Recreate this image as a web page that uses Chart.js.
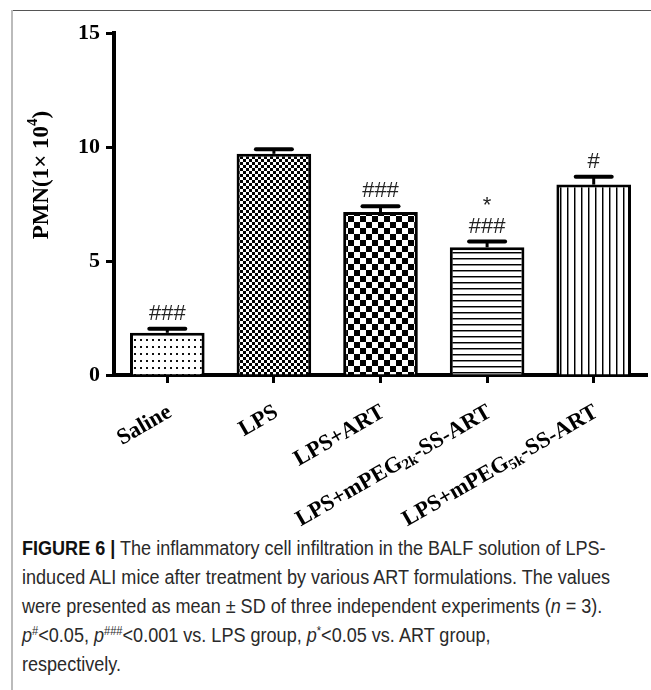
<!DOCTYPE html>
<html>
<head>
<meta charset="utf-8">
<script src="https://cdn.jsdelivr.net/npm/chart.js@4"></script>
<style>
    body { margin: 0; background: #fff; width: 651px; height: 690px; overflow: hidden; position: relative; }
    #frameTop { position: absolute; left: 11px; top: 10px; width: 640px; height: 1px; background: #555; }
    #frameLeft { position: absolute; left: 11px; top: 10px; width: 2px; height: 680px; background: #bbb; }
    #chartBox { position: absolute; left: 0; top: 0; width: 651px; height: 530px; }
    #caption { position: absolute; left: 22px; top: 534px; font-family: "Liberation Sans", Arial, sans-serif; font-size: 19.5px; line-height: 29px; color: #2a2a2a; white-space: nowrap; transform-origin: 0 0; }
    #caption div { display: block; }
    #caption b { font-weight: bold; color: #111; }
    #caption sup { font-size: 12px; line-height: 0; }
</style>
</head>
<body>
<div id="frameTop"></div>
<div id="frameLeft"></div>
<div id="chartBox"><canvas id="chart"></canvas></div>
<div id="caption">
    <div><b>FIGURE 6 |</b> The inflammatory cell infiltration in the BALF solution of LPS-</div>
    <div><span id="line2">induced ALI mice after treatment by various ART formulations. The values</span></div>
    <div>were presented as mean ± SD of three independent experiments (<i>n</i> = 3).</div>
    <div><i>p</i><sup>#</sup>&lt;0.05, <i>p</i><sup>###</sup>&lt;0.001 vs. LPS group, <i>p</i><sup>*</sup>&lt;0.05 vs. ART group,</div>
    <div>respectively.</div>
</div>
<script>
const categories = ['Saline', 'LPS', 'LPS+ART', 'LPS+mPEG2k-SS-ART', 'LPS+mPEG5k-SS-ART'];
const subscripts = ['', '', '', '2k', '5k'];
const pmnMean = [1.85, 9.7, 7.15, 5.6, 8.35];
const pmnSD = [0.18, 0.2, 0.25, 0.25, 0.35];
const marks = [['###'], [], ['###'], ['*', '###'], ['#']];
const yTicks = [0, 5, 10, 15];

const serif = '"Liberation Serif", "Times New Roman", serif';

// squeeze the caption to the narrow look of the original
const line2 = document.getElementById('line2');
document.getElementById('caption').style.transform = 'scaleX(' + (588 / line2.getBoundingClientRect().width) + ')';

// little tiles for the bar fills
function makePattern(w, h, draw) {
    const c = document.createElement('canvas');
    c.width = w;
    c.height = h;
    const g = c.getContext('2d');
    g.fillStyle = '#fff';
    g.fillRect(0, 0, w, h);
    draw(g);
    return c;
}

const ctx = document.getElementById('chart').getContext('2d');

const tiles = [
    makePattern(6, 7, g => { g.fillStyle = '#111'; g.fillRect(2, 3, 2, 2); }),
    makePattern(6, 6, g => { g.fillStyle = '#000'; g.fillRect(0, 0, 3, 3); g.fillRect(3, 3, 3, 3); }),
    makePattern(12, 12, g => { g.fillStyle = '#000'; g.fillRect(0, 0, 6, 6); g.fillRect(6, 6, 6, 6); }),
    makePattern(4, 6, g => { g.fillStyle = '#000'; g.fillRect(0, 0, 4, 1); g.fillStyle = '#888'; g.fillRect(0, 1, 4, 1); }),
    makePattern(7, 4, g => { g.fillStyle = '#000'; g.fillRect(0, 0, 1, 4); g.fillStyle = '#888'; g.fillRect(1, 0, 1, 4); })
];
const fills = tiles.map(t => ctx.createPattern(t, 'repeat'));

const errorBars = {
    id: 'errorBars',
    afterDatasetsDraw(chart) {
        const c = chart.ctx;
        const y = chart.scales.y;
        const meta = chart.getDatasetMeta(0);
        c.save();
        c.strokeStyle = '#000';
        meta.data.forEach((bar, i) => {
            const top = y.getPixelForValue(pmnMean[i] + pmnSD[i]);
            c.lineWidth = 3;
            c.beginPath();
            c.moveTo(bar.x, bar.y);
            c.lineTo(bar.x, top);
            c.stroke();
            c.lineWidth = 4;
            c.lineCap = 'round';
            c.beginPath();
            c.moveTo(bar.x - 18, top);
            c.lineTo(bar.x + 18, top);
            c.stroke();
            c.lineCap = 'butt';

            // significance marks, stacked upwards
            c.fillStyle = '#222';
            c.font = '22px "Liberation Sans", Arial, sans-serif';
            c.textAlign = 'center';
            c.textBaseline = 'alphabetic';
            const lines = marks[i].slice().reverse();
            lines.forEach((txt, k) => {
                c.fillText(txt, bar.x, top - 9 - k * 21);
            });
        });
        c.restore();
    }
};

// rotated category labels (with subscripts) and the y title
const axisText = {
    id: 'axisText',
    afterDraw(chart) {
        const c = chart.ctx;
        const x = chart.scales.x;
        const big = 'bold 22.5px ' + serif;
        const small = 'bold 15px ' + serif;
        c.save();
        c.fillStyle = '#000';
        c.textBaseline = 'top';
        c.textAlign = 'left';
        categories.forEach((label, i) => {
            let parts = [[label, big, 0]];
            if (subscripts[i]) {
                const at = label.indexOf(subscripts[i]);
                parts = [
                    [label.slice(0, at), big, 0],
                    [subscripts[i], small, 9],
                    [label.slice(at + subscripts[i].length), big, 0]
                ];
            }
            let total = 0;
            parts.forEach(p => { c.font = p[1]; total += c.measureText(p[0]).width; });
            c.save();
            c.translate(x.getPixelForValue(i) - 3, 401);
            c.rotate(-30 * Math.PI / 180);
            let pos = -total;
            parts.forEach(p => {
                c.font = p[1];
                c.fillText(p[0], pos, p[2]);
                pos += c.measureText(p[0]).width;
            });
            c.restore();
        });

        // y title
        c.save();
        c.translate(42, 175);
        c.rotate(-Math.PI / 2);
        c.textBaseline = 'middle';
        const pieces = [['PMN(1\u00d7 10', 'bold 23px ' + serif, 0], ['4', 'bold 15px ' + serif, -9], [')', 'bold 23px ' + serif, 0]];
        let w = 0;
        pieces.forEach(p => { c.font = p[1]; w += c.measureText(p[0]).width; });
        let px = -w / 2;
        pieces.forEach(p => {
            c.font = p[1];
            c.fillText(p[0], px, p[2]);
            px += c.measureText(p[0]).width;
        });
        c.restore();
        c.restore();
    }
};

new Chart(ctx, {
    type: 'bar',
    data: {
        labels: categories,
        datasets: [{
            data: pmnMean,
            backgroundColor: fills,
            borderColor: '#000',
            borderWidth: 3,
            borderSkipped: 'start',
            barPercentage: 0.7,
            categoryPercentage: 1
        }]
    },
    options: {
        responsive: true,
        maintainAspectRatio: false,
        animation: false,
        events: [],
        layout: { padding: { left: 0, top: 33, right: 4, bottom: 0 } },
        plugins: { legend: { display: false }, tooltip: { enabled: false } },
        scales: {
            x: {
                z: 1,
                grid: { display: true, drawOnChartArea: false, offset: false, color: '#000', tickLength: 8, tickWidth: 3 },
                border: { display: true, color: '#000', width: 4 },
                ticks: { display: false },
                afterFit(scale) { scale.height = 155; }
            },
            y: {
                z: 1,
                min: 0,
                max: 15,
                afterBuildTicks(scale) { scale.ticks = yTicks.map(v => ({ value: v })); },
                grid: { display: true, drawOnChartArea: false, color: '#000', tickLength: 8, tickWidth: 3 },
                border: { display: true, color: '#000', width: 4 },
                ticks: { color: '#000', padding: 6, font: { family: serif, size: 22, weight: 'bold' } },
                afterFit(scale) { scale.width = 114; }
            }
        }
    },
    plugins: [errorBars, axisText]
});
</script>
</body>
</html>
